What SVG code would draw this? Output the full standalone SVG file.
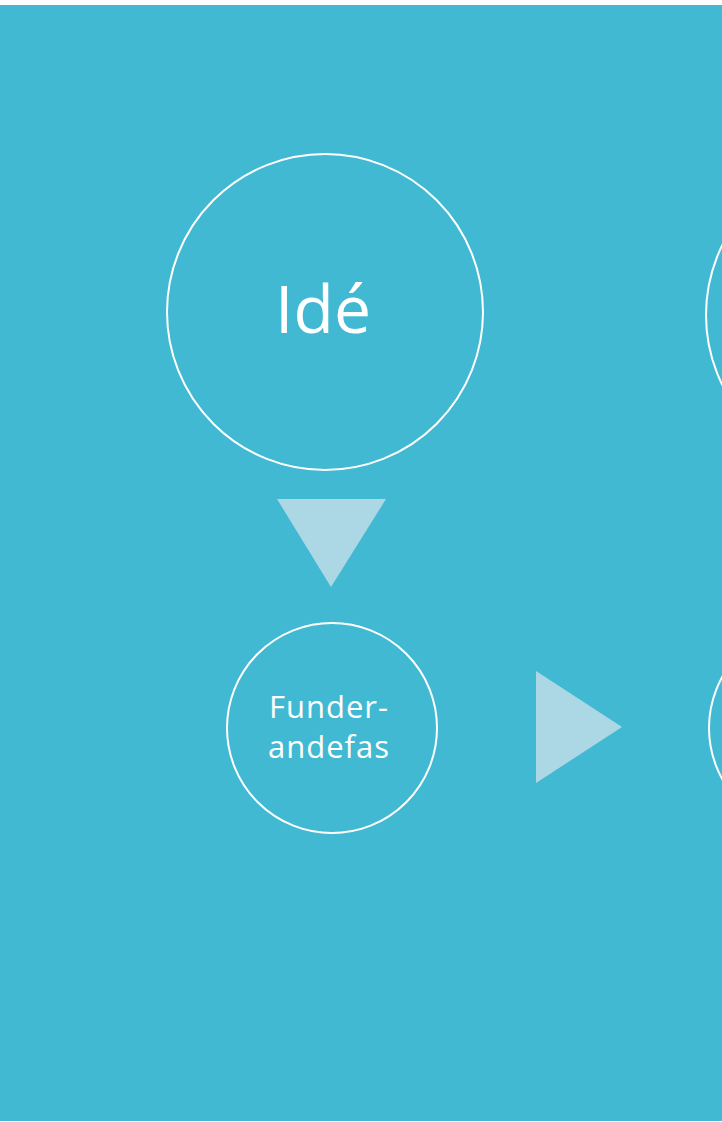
<svg xmlns="http://www.w3.org/2000/svg" width="722" height="1122" viewBox="0 0 722 1122">
<style>
.node{fill:none;stroke:#ffffff;stroke-width:2}
.lbl{fill:#ffffff;font-family:"Open Sans","Noto Sans",sans-serif;text-anchor:middle}
.arrow{fill:#acd8e5}
</style>
<rect x="0" y="0" width="722" height="1122" fill="#ffffff"/>
<rect x="0" y="5" width="722" height="1116" fill="#41b9d3"/>
<g id="node-ide">
<circle class="node" cx="325" cy="312" r="158"/>
<text class="lbl" x="323" y="333" font-size="66">Idé</text>
</g>
<g id="node-funderandefas">
<circle class="node" cx="332" cy="728" r="105"/>
<text class="lbl" x="329" y="718" font-size="31" letter-spacing="1">Funder-</text>
<text class="lbl" x="329" y="758" font-size="31" letter-spacing="1">andefas</text>
</g>
<g id="node-right-top">
<circle class="node" cx="864" cy="315" r="158"/>
</g>
<g id="node-right-bottom">
<circle class="node" cx="814" cy="728" r="105"/>
</g>
<g id="connectors">
<polygon class="arrow" points="277,499 386,499 331,587"/>
<polygon class="arrow" points="536,671 536,783 622,727"/>
</g>
</svg>
